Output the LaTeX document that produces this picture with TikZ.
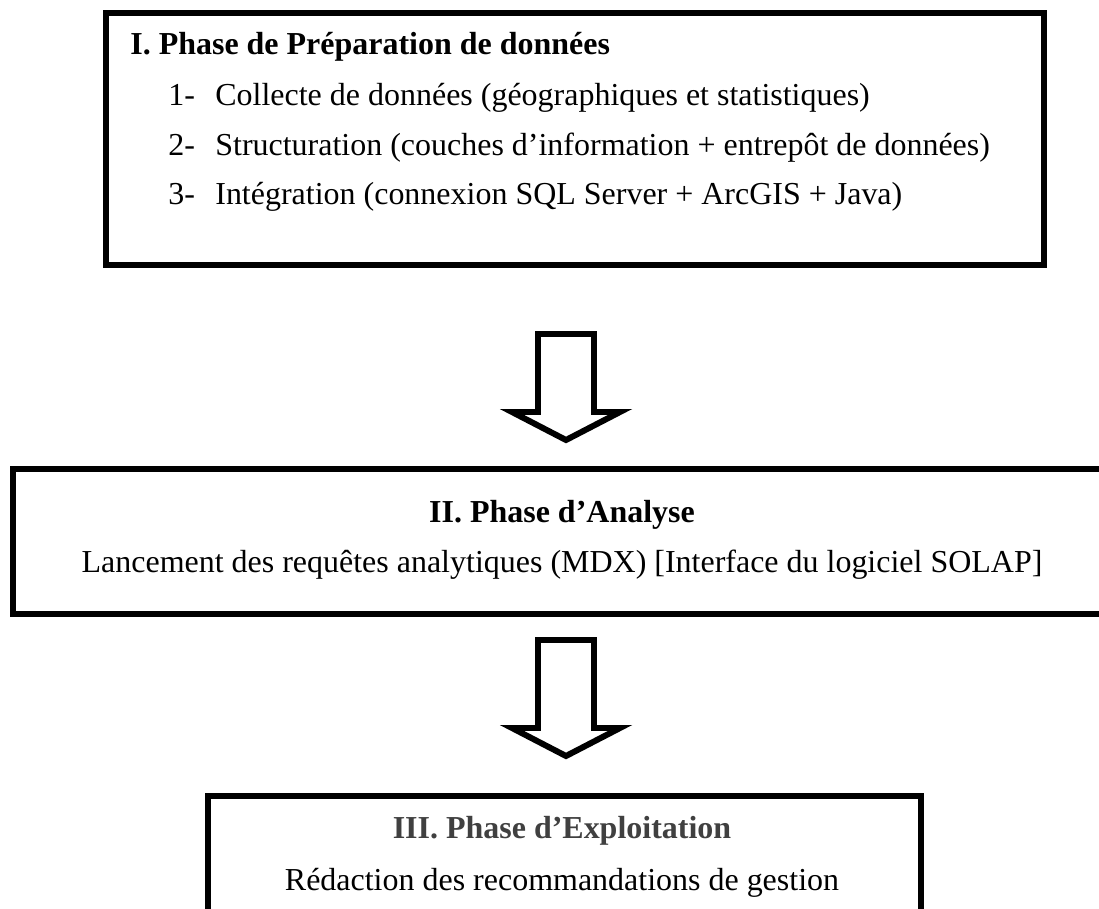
\documentclass[tikz,border=0pt]{standalone}
\usepackage{fontspec}
\setmainfont{Liberation Serif}
\usetikzlibrary{fit}
\usetikzlibrary{calc}

\tikzset{
	phase/.style={draw, line width=3.4pt, inner sep=0pt},
	ltxt/.style={anchor=base west, inner sep=0pt, font=\fontsize{18.2}{22}\selectfont},
	ctxt/.style={anchor=base, inner sep=0pt, font=\fontsize{18.2}{22}\selectfont},
	pics/downarrow/.style={code={
		\draw[line width=3.4pt] (-28,0) -- (28,0) -- (28,#1) -- (54,#1)
		-- (0,#1+28) -- (-54,#1) -- (-28,#1) -- cycle;
	}}
}

\begin{document}
\begin{tikzpicture}[x=0.02cm,y=-0.02cm]
	\useasboundingbox (0,0) rectangle (1099,909);
	\clip (0,0) rectangle (1099,909);

	% phase I
	\node[phase, fit={(106,13) (1044,265)}] (prep) {};
	\node[ltxt, font=\fontsize{18.2}{22}\selectfont\bfseries] (prepT) at (130,55) {I. Phase de Préparation de données};
	\node[ltxt] (n1) at (168,106) {1-};
	\node[ltxt] (s1) at (215,106) {Collecte de données (géographiques et statistiques)};
	\node[ltxt] (n2) at (168,155) {2-};
	\node[ltxt] (s2) at (215,155) {Structuration (couches d’information + entrepôt de données)};
	\node[ltxt] (n3) at (168,204) {3-};
	\node[ltxt] (s3) at (215,204) {Intégration (connexion SQL Server + ArcGIS + Java)};

	\coordinate (a1) at (566,334);
	\pic at (a1) {downarrow=78};

	% phase II
	\node[phase, fit={(13,469) (1120,614)}] (anal) {};
	\node[ctxt, font=\fontsize{18.2}{22}\selectfont\bfseries] (analT) at (562,522) {II. Phase d’Analyse};
	\node[ctxt] (analL) at (562,572) {Lancement des requêtes analytiques (MDX) [Interface du logiciel SOLAP]};

	\coordinate (a2) at (566,640);
	\pic at (a2) {downarrow=88};

	% phase III
	\node[phase, fit={(208,796) (921,930)}] (expl) {};
	\node[ctxt, font=\fontsize{18.2}{22}\selectfont\bfseries, text=black!75] (explT) at (562,838) {III. Phase d’Exploitation};
	\node[ctxt] (explL) at (562,890) {Rédaction des recommandations de gestion};
\end{tikzpicture}
\end{document}
